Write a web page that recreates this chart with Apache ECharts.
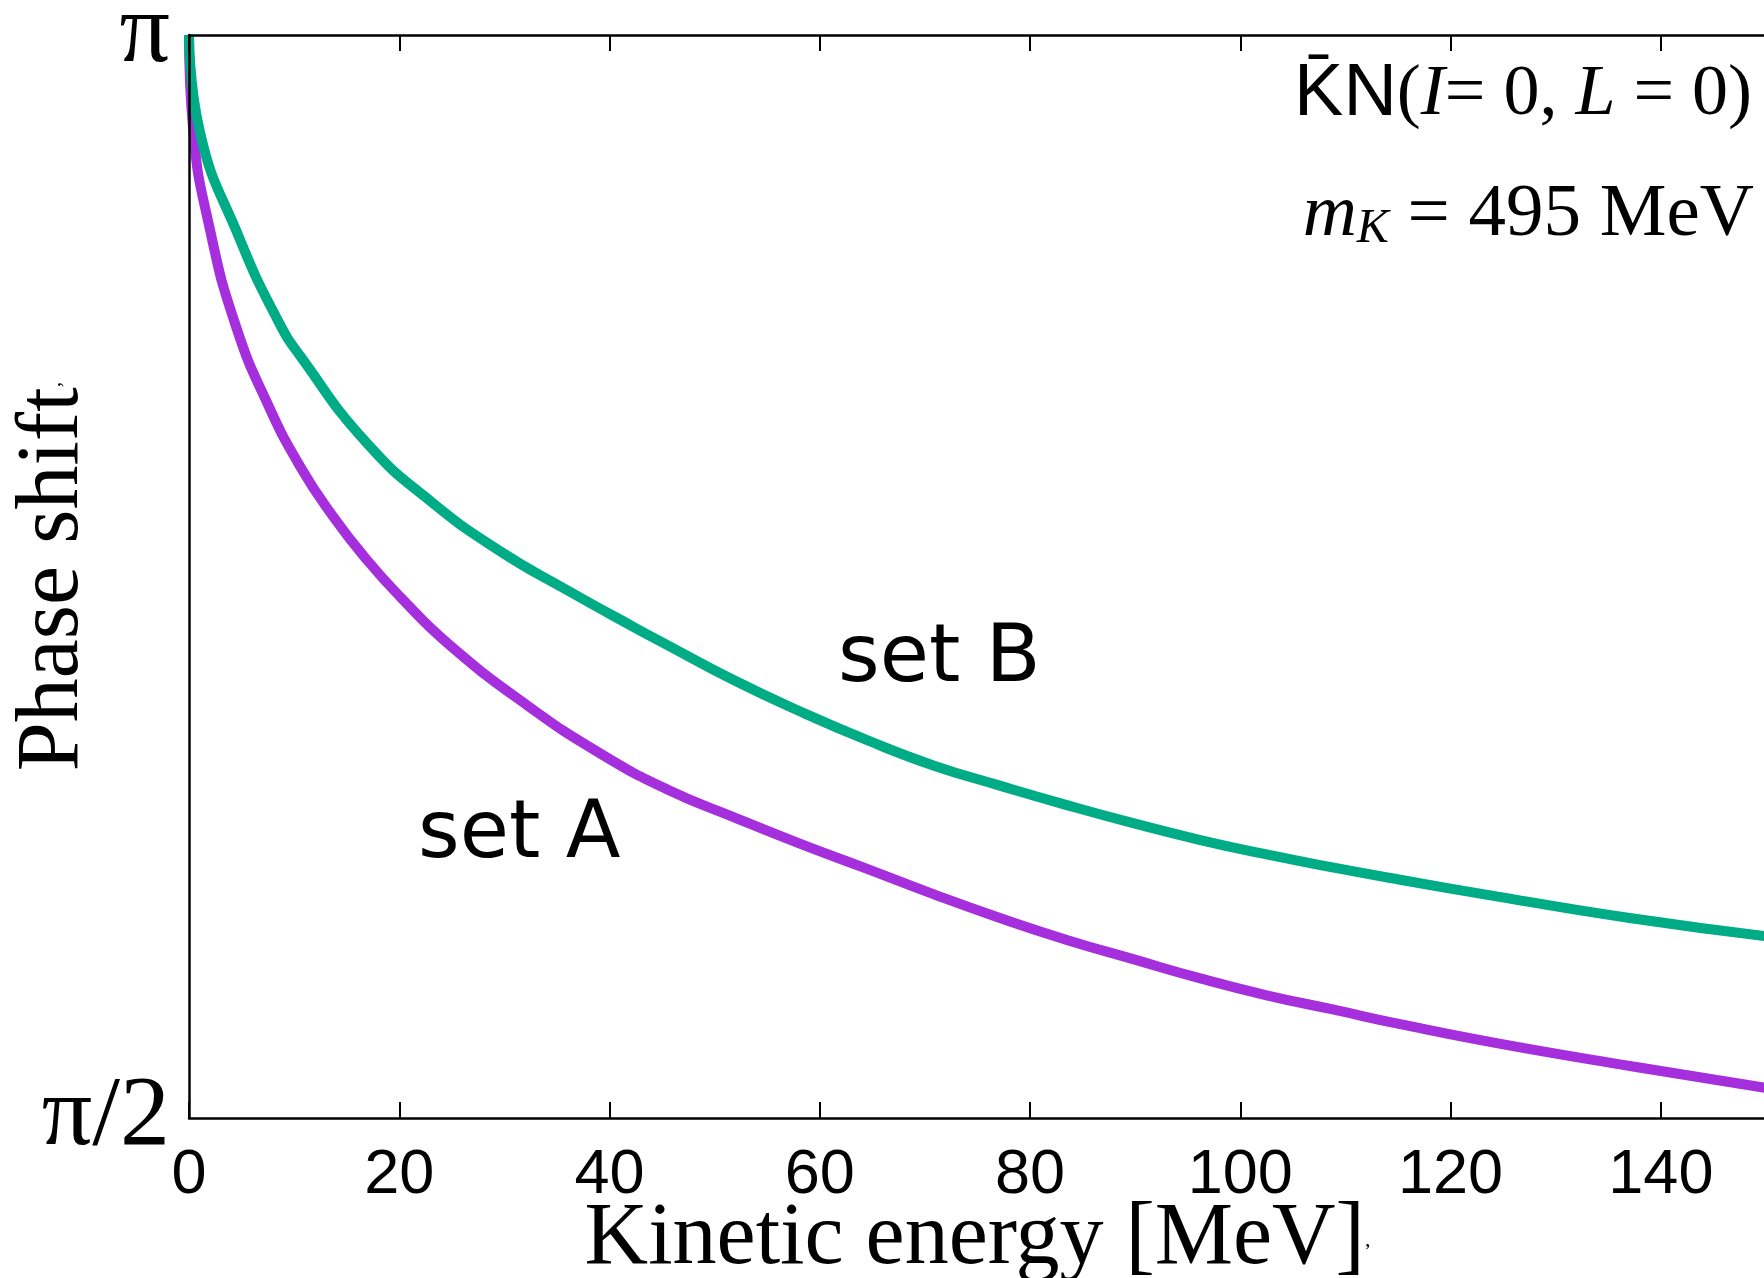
<!DOCTYPE html>
<html>
<head>
    <meta charset="utf-8">
    <title>phase shift</title>
    <script src="https://cdn.jsdelivr.net/npm/echarts@6/dist/echarts.min.js"></script>
    <style>
        html, body { margin: 0; padding: 0; background: #fff; }
    </style>
</head>
<body>
    <div id="main" style="width: 1764px; height: 1278px;"></div>
    <script type="text/javascript">
    // kinetic energy [MeV] and phase shift [deg]
    var energyA = [0, 0.4, 2.0, 4.5, 7.5, 10.6, 13.7, 16.9, 20.1, 24.8, 32.0, 39.1, 45.5, 51.8, 58.1, 64.5, 70.8, 77.2, 83.5, 89.8, 96.2, 102.5, 108.9, 115.2, 124.5, 137.2, 150];
    var phaseA = [180, 172.1, 163.8, 155.7, 149.3, 144.1, 140.0, 136.4, 133.3, 129.3, 124.4, 120.3, 117.3, 115.0, 112.8, 110.7, 108.6, 106.6, 104.8, 103.2, 101.6, 100.2, 99.0, 97.8, 96.2, 94.3, 92.5];
    var energyB = [0, 1.0, 4.85, 8.5, 10.6, 16.9, 23.2, 29.6, 35.9, 42.3, 45.5, 51.8, 58.1, 64.5, 70.8, 77.2, 83.5, 89.8, 96.2, 102.5, 108.9, 115.2, 124.5, 137.2, 150];
    var phaseB = [180, 172.1, 163.0, 156.2, 153.3, 146.1, 141.1, 137.1, 133.9, 130.8, 129.3, 126.4, 123.8, 121.4, 119.3, 117.6, 116.0, 114.5, 113.1, 111.9, 110.8, 109.8, 108.4, 106.6, 105.1];
    var xTickSkip = 150;
    var yTickLabels = { 90: 'π/2', 180: 'π' };

    function pairs(xs, ys) {
        return xs.map(function (x, i) { return [x, ys[i]]; });
    }

    var serif = '"Liberation Serif", "DejaVu Serif", serif';
    var sans = '"Liberation Sans", Arial, sans-serif';
    var labelFont = '"DejaVu Sans", sans-serif';

    var myChart = echarts.init(document.getElementById('main'));
    var option = {
        animation: false,
        backgroundColor: '#fff',
        grid: { left: 189, top: 35, right: -2, bottom: 160, containLabel: false, outerBoundsMode: 'none' },
        xAxis: [{
            type: 'value',
            min: 0,
            max: 150,
            interval: 20,
            z: 5,
            name: 'Kinetic energy [MeV]{c|,}',
            nameLocation: 'middle',
            nameGap: 78,
            nameMoveOverlap: false,
            nameTextStyle: {
                fontFamily: serif, fontSize: 88, color: '#000',
                rich: { c: { fontFamily: serif, fontSize: 22, color: '#000' } }
            },
            axisLine: { lineStyle: { color: '#000', width: 2.5 } },
            axisTick: { inside: true, length: 16, lineStyle: { color: '#000', width: 2 } },
            axisLabel: {
                fontFamily: sans, fontSize: 63, color: '#000', margin: 26,
                formatter: function (v) { return v === xTickSkip ? '' : String(v); }
            },
            splitLine: { show: false }
        }, {
            type: 'value',
            position: 'top',
            min: 0,
            max: 150,
            interval: 20,
            z: 5,
            axisLine: { lineStyle: { color: '#000', width: 2.5 } },
            axisTick: { inside: true, length: 16, lineStyle: { color: '#000', width: 2 } },
            axisLabel: { show: false },
            splitLine: { show: false }
        }],
        yAxis: {
            type: 'value',
            min: 90,
            max: 180,
            interval: 90,
            z: 5,
            name: 'Phase shift{c|,}',
            nameLocation: 'middle',
            nameRotate: 90,
            nameGap: 91,
            nameMoveOverlap: false,
            nameTextStyle: {
                fontFamily: serif, fontSize: 88, color: '#000',
                rich: { c: { fontFamily: serif, fontSize: 22, color: '#000' } }
            },
            axisLine: { show: true, lineStyle: { color: '#000', width: 2.5 } },
            axisTick: { show: false },
            axisLabel: {
                fontFamily: serif, fontSize: 100, color: '#000', margin: 19,
                formatter: function (v) { return yTickLabels[v] || ''; }
            },
            splitLine: { show: false }
        },
        series: [{
            name: 'set A',
            type: 'line',
            data: pairs(energyA, phaseA),
            showSymbol: false,
            smooth: 0.5,
            lineStyle: { color: '#a52fdd', width: 10 }
        }, {
            name: 'set B',
            type: 'line',
            data: pairs(energyB, phaseB),
            showSymbol: false,
            smooth: 0.5,
            lineStyle: { color: '#00ac86', width: 10 }
        }],
        graphic: [{
            type: 'text',
            right: 12,
            top: 58,
            style: {
                text: '{k|K\u0304N}{s|(}{i|I}{s|= 0, }{i|L}{s| = 0)}',
                rich: {
                    k: { fontFamily: sans, fontSize: 74, fill: '#000' },
                    s: { fontFamily: serif, fontSize: 72, fill: '#000' },
                    i: { fontFamily: serif, fontStyle: 'italic', fontSize: 72, fill: '#000' }
                }
            }
        }, {
            type: 'text',
            right: 10,
            top: 178,
            style: {
                text: '{m|m}{sub|K}{s| = 495 MeV}',
                rich: {
                    m: { fontFamily: serif, fontStyle: 'italic', fontSize: 75, fill: '#000' },
                    sub: { fontFamily: serif, fontStyle: 'italic', fontSize: 48, fill: '#000', verticalAlign: 'bottom' },
                    s: { fontFamily: serif, fontSize: 75, fill: '#000' }
                }
            }
        }, {
            type: 'text',
            left: 418,
            top: 796,
            style: { text: 'set A', font: '80px ' + labelFont, fill: '#000' }
        }, {
            type: 'text',
            left: 838,
            top: 620,
            style: { text: 'set B', font: '80px ' + labelFont, fill: '#000' }
        }]
    };
    myChart.setOption(option);
    </script>
</body>
</html>
